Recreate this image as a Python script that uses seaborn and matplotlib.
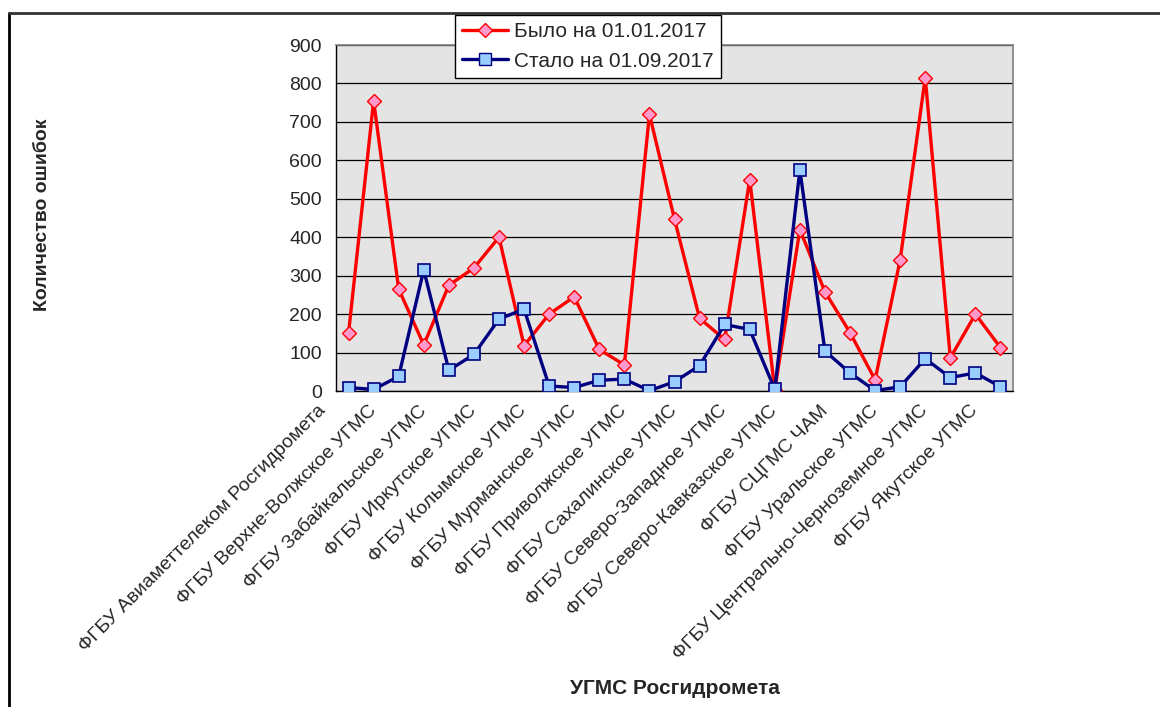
import matplotlib
matplotlib.use("Agg")
import matplotlib.pyplot as plt
import matplotlib.transforms as mtransforms
from matplotlib.lines import Line2D
import numpy as np
import pandas as pd
import seaborn as sns

categories = [
	"ФГБУ Авиаметтелеком Росгидромета",
	"ФГБУ Башкирское УГМС",
	"ФГБУ Верхне-Волжское УГМС",
	"ФГБУ Дальневосточное УГМС",
	"ФГБУ Забайкальское УГМС",
	"ФГБУ Западно-Сибирское УГМС",
	"ФГБУ Иркутское УГМС",
	"ФГБУ Камчатское УГМС",
	"ФГБУ Колымское УГМС",
	"ФГБУ Крымское УГМС",
	"ФГБУ Мурманское УГМС",
	"ФГБУ Обь-Иртышское УГМС",
	"ФГБУ Приволжское УГМС",
	"ФГБУ Приморское УГМС",
	"ФГБУ Сахалинское УГМС",
	"ФГБУ Северное УГМС",
	"ФГБУ Северо-Западное УГМС",
	"ФГБУ Калининградский ЦГМС",
	"ФГБУ Северо-Кавказское УГМС",
	"ФГБУ Среднесибирское УГМС",
	"ФГБУ СЦГМС ЧАМ",
	"ФГБУ УГМС Республики Татарстан",
	"ФГБУ Уральское УГМС",
	"ФГБУ Центральное УГМС",
	"ФГБУ Центрально-Черноземное УГМС",
	"ФГБУ Чукотское УГМС",
	"ФГБУ Якутское УГМС",
]

bylo = [150, 755, 265, 120, 275, 320, 400, 118, 200, 245, 108, 68, 720, 447,
	189, 134, 550, 3, 420, 258, 152, 29, 341, 815, 86, 200, 113]
stalo = [9, 4, 38, 315, 54, 95, 187, 213, 13, 9, 28, 31, 1, 24, 66, 173, 160,
	4, 575, 104, 47, 1, 11, 84, 35, 47, 11]

label_bylo = "Было на 01.01.2017"
label_stalo = "Стало на 01.09.2017"

df = pd.DataFrame({"idx": np.arange(len(categories)), "bylo": bylo, "stalo": stalo})

sns.set_style("white")
plt.rcParams["font.family"] = ["Liberation Sans", "DejaVu Sans"]

fig = plt.figure(figsize=(11.6, 7.07), dpi=100)
ax = fig.add_axes([336 / 1160, 1 - 391 / 707, 677 / 1160, 346 / 707])
ax.set_facecolor("#e4e4e4")

sns.lineplot(data=df, x="idx", y="bylo", ax=ax, color="#ff0000", lw=2.4,
	marker="D", markersize=7.5, markerfacecolor="#ff99cc", markeredgecolor="#ff0000",
	markeredgewidth=1, zorder=3)
sns.lineplot(data=df, x="idx", y="stalo", ax=ax, color="#000080", lw=2.4,
	marker="s", markersize=8, markerfacecolor="#99ccff", markeredgecolor="#000080",
	markeredgewidth=1.2, zorder=4)

ax.set_xlim(-0.5, len(categories) - 0.5)
ax.set_ylim(0, 900)
ax.set_yticks(np.arange(0, 901, 100))
ax.yaxis.grid(True, color="black", lw=0.9)
ax.set_axisbelow(True)

ax.set_xticks(np.arange(-0.5, len(categories), 1), minor=False)
ax.set_xticklabels([])
ax.set_xticks(np.arange(0, len(categories), 2), minor=True)
ax.set_xticklabels(categories[::2], minor=True, rotation=45, ha="right",
	va="top", rotation_mode="anchor", fontsize=14)
ax.tick_params(axis="x", which="major", length=6, width=1, color="black", direction="out")
ax.tick_params(axis="x", which="minor", length=0, pad=8)
ax.tick_params(axis="y", length=6, width=1, color="black", labelsize=14, pad=4)

offset = mtransforms.ScaledTranslation(-31 / 100, 0, fig.dpi_scale_trans)
for lab in ax.get_xticklabels(minor=True):
	lab.set_transform(lab.get_transform() + offset)

for side in ["left", "bottom"]:
	ax.spines[side].set_color("black")
	ax.spines[side].set_linewidth(1)
for side in ["top", "right"]:
	ax.spines[side].set_color("#808080")
	ax.spines[side].set_linewidth(1.2)

ax.set_xlabel("")
ax.set_ylabel("Количество ошибок", fontsize=14, fontweight="bold")
ax.yaxis.set_label_coords(-0.421, 0.51)
fig.text(675 / 1160, 1 - 688 / 707, "УГМС Росгидромета", fontsize=15,
	fontweight="bold", ha="center", va="center")

handles = [
	Line2D([], [], color="#ff0000", lw=2.4, marker="D", markersize=7.5,
		markerfacecolor="#ff99cc", markeredgecolor="#ff0000"),
	Line2D([], [], color="#000080", lw=2.4, marker="s", markersize=8,
		markerfacecolor="#99ccff", markeredgecolor="#000080"),
]
leg = fig.legend(handles, [label_bylo, label_stalo], loc="upper left",
	bbox_to_anchor=(455 / 1160, 1 - 15 / 707), fontsize=15, frameon=True,
	fancybox=False, framealpha=1, edgecolor="black", handlelength=2.2,
	borderpad=0.35, labelspacing=0.5, handletextpad=0.3, borderaxespad=0)
leg.get_frame().set_linewidth(1)

fig.add_artist(Line2D([9 / 1160, 9 / 1160], [0, 1 - 13 / 707], color="black",
	lw=2, transform=fig.transFigure))
fig.add_artist(Line2D([9 / 1160, 1], [1 - 13 / 707, 1 - 13 / 707], color="#333333",
	lw=2, transform=fig.transFigure))

fig.savefig("out.png", dpi=100)
